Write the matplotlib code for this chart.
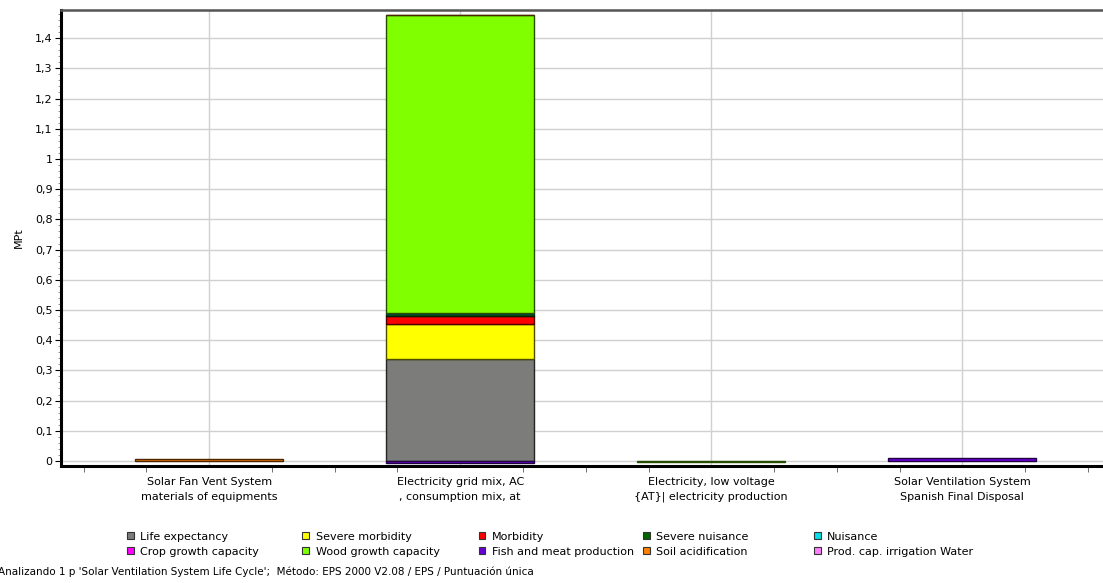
import numpy as np
import matplotlib.pyplot as plt
from matplotlib.colors import to_rgb
from matplotlib.patches import Patch
from matplotlib.ticker import FuncFormatter, MultipleLocator, FixedLocator

# categories (processes)
processes = [
    "Solar Fan Vent System\nmaterials of equipments",
    "Electricity grid mix, AC\n, consumption mix, at",
    "Electricity, low voltage\n{AT}| electricity production",
    "Solar Ventilation System\nSpanish Final Disposal",
]

# impact categories, in stacking order
impacts = [
    "Life expectancy", "Severe morbidity", "Morbidity", "Severe nuisance", "Nuisance",
    "Crop growth capacity", "Wood growth capacity", "Fish and meat production",
    "Soil acidification", "Prod. cap. irrigation Water",
]
colors = [
    "#7c7c7a", "#ffff00", "#ff0000", "#006400", "#00e0e8",
    "#ff00ff", "#80ff00", "#6a00d8", "#ff8000", "#ff80ff",
]

# values in MPt per process (one list per impact category)
life_expectancy = [0.0, 0.338, 0.0, 0.0]
severe_morbidity = [0.0, 0.116, 0.0, 0.0]
morbidity = [0.0, 0.026, 0.0, 0.0]
severe_nuisance = [0.0, 0.008, 0.0, 0.0]
nuisance = [0.0, 0.002, 0.0, 0.0]
crop_growth = [0.0, 0.0, 0.0, 0.0]
wood_growth = [0.0, 0.985, -0.003, 0.0]
fish_meat = [0.0, -0.006, 0.0, 0.009]
soil_acid = [0.005, 0.002, 0.0, 0.0]
irrigation = [0.0, 0.0, 0.0, 0.0]

series = [life_expectancy, severe_morbidity, morbidity, severe_nuisance, nuisance,
          crop_growth, wood_growth, fish_meat, soil_acid, irrigation]

fig = plt.figure(figsize=(11.03, 5.83), dpi=100)
ax = fig.add_axes([0.0553, 0.2007, 0.9447, 0.7821])

x = np.arange(len(processes))
pos_base = np.zeros(len(processes))
neg_base = np.zeros(len(processes))
for vals, col in zip(series, colors):
    v = np.array(vals)
    bottoms = np.where(v >= 0, pos_base, neg_base)
    mask = v != 0
    edge = tuple(c * 0.3 for c in to_rgb(col))
    ax.bar(x[mask], v[mask], bottom=bottoms[mask], width=0.59, color=col,
           edgecolor=edge, linewidth=1.0, zorder=3)
    pos_base += np.where(v > 0, v, 0)
    neg_base += np.where(v < 0, v, 0)

ax.set_xlim(-0.59, 3.56)
ax.set_ylim(-0.0166, 1.493)

ax.yaxis.set_major_locator(MultipleLocator(0.1))
ax.yaxis.set_minor_locator(MultipleLocator(0.02))
ax.yaxis.set_major_formatter(FuncFormatter(
    lambda v, p: ("%g" % round(v, 1)).replace(".", ",")))
ax.set_xticks(x)
ax.set_xticklabels(processes, fontsize=8, linespacing=1.55)
ax.xaxis.set_minor_locator(FixedLocator([-0.5, -0.25, 0.25, 0.5, 0.75, 1.25, 1.5, 1.75,
                                         2.25, 2.5, 2.75, 3.25, 3.5]))
ax.tick_params(axis="x", which="major", length=0, pad=8)
ax.tick_params(axis="x", which="minor", length=4, color="#555555")
ax.tick_params(axis="y", which="major", length=4, labelsize=8, pad=2)
ax.tick_params(axis="y", which="minor", length=2, color="#888888")

ax.grid(True, which="major", color="#d0d0d0", linewidth=1.0, zorder=0)
ax.set_axisbelow(True)

ax.spines["left"].set_linewidth(2.2)
ax.spines["bottom"].set_linewidth(2.2)
ax.spines["top"].set_linewidth(1.8)
ax.spines["top"].set_color("#555555")
ax.spines["right"].set_visible(False)

ax.set_ylabel("MPt", fontsize=8, labelpad=8)

# legend: 5 columns of 2 entries, placed at fixed x positions
col_x = [0.115, 0.274, 0.434, 0.583, 0.738]
for k, cx in enumerate(col_x):
    idx = [k, k + 5]
    hs = [Patch(facecolor=colors[i], edgecolor="#333333", linewidth=0.8) for i in idx]
    fig.legend(hs, [impacts[i] for i in idx], loc="upper left",
               bbox_to_anchor=(cx, 0.088), frameon=False, fontsize=8,
               handlelength=0.6, handleheight=0.6, handletextpad=0.6,
               labelspacing=0.45, borderaxespad=0, borderpad=0)

fig.text(-0.002, 0.011,
         "Analizando 1 p 'Solar Ventilation System Life Cycle';  Método: EPS 2000 V2.08 / EPS / Puntuación única",
         fontsize=7.5, ha="left", va="bottom")

fig.savefig("out.png", dpi=100)
